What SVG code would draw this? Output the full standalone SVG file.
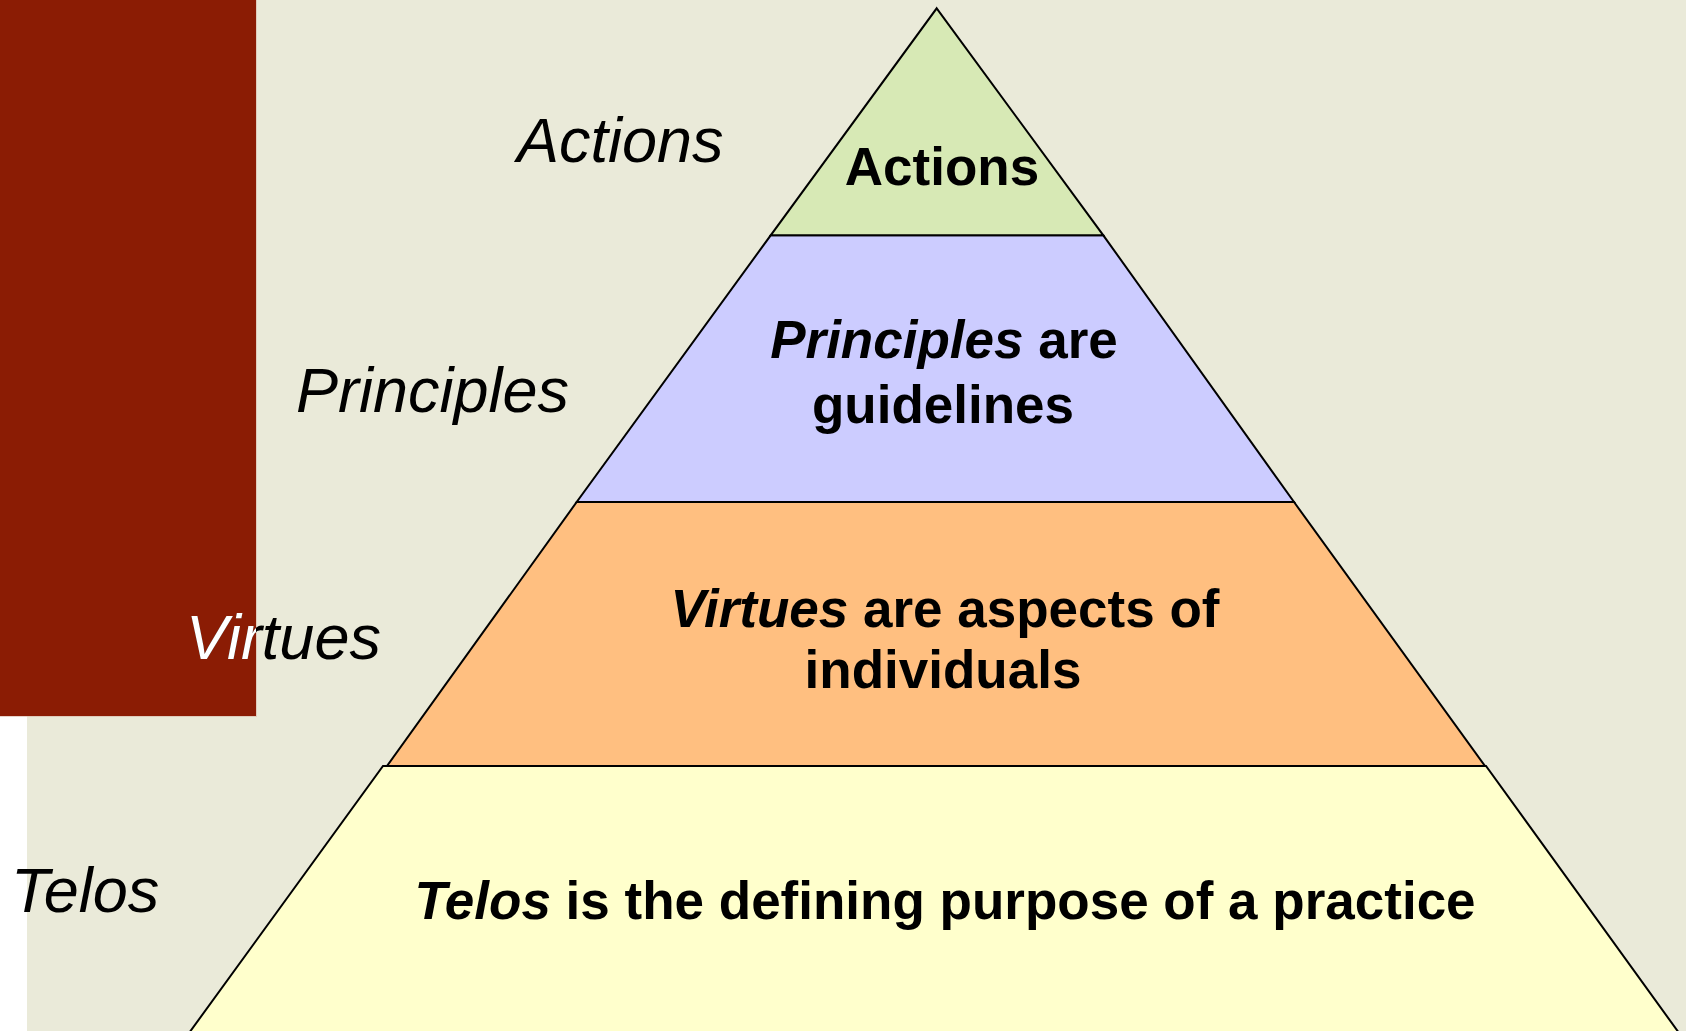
<svg xmlns="http://www.w3.org/2000/svg" width="1686" height="1031" viewBox="0 0 1686 1031">
  <style>
    .band { stroke: #000; stroke-width: 2; stroke-linejoin: miter; }
    .side { font-family: "Liberation Sans", Arial, sans-serif; font-style: italic; font-size: 63px; fill: #000; }
    .inner { font-family: "Liberation Sans", Arial, sans-serif; font-weight: bold; font-size: 53px; fill: #000; text-anchor: middle; }
    .em { font-style: italic; }
  </style>
  <defs>
    <clipPath id="redArea">
      <rect x="0" y="0" width="256" height="716"/>
    </clipPath>
  </defs>

  <!-- page background -->
  <rect x="0" y="0" width="1686" height="1031" fill="#EAEAD9"/>
  <rect x="0" y="716" width="27" height="315" fill="#FFFFFF"/>
  <!-- dark red side panel -->
  <rect x="0" y="0" width="257" height="717" fill="#D9B7A8" opacity="0.6"/>
  <rect x="0" y="0" width="256" height="716" fill="#8B1C04"/>

  <!-- side labels -->
  <g id="side-labels">
    <text class="side" x="517" y="162">Actions</text>
    <text class="side" x="296" y="412">Principles</text>
    <text class="side" x="186" y="659">Virtues</text>
    <text class="side" x="186" y="659" fill="#FFFFFF" style="fill:#FFFFFF" clip-path="url(#redArea)">Virtues</text>
    <text class="side" x="11" y="912">Telos</text>
  </g>

  <!-- pyramid levels -->
  <g id="level-telos">
    <polygon class="band" fill="#FFFFCC" points="383,766 1486,766 1700,1062 168,1062"/>
    <text class="inner" x="945" y="919"><tspan class="em">Telos</tspan> is the defining purpose of a practice</text>
  </g>
  <g id="level-virtues">
    <polygon class="band" fill="#FFBF80" points="576.7,502 1294,502 1485,766 387,766"/>
    <text class="inner" x="945" y="627"><tspan class="em">Virtues</tspan> are aspects of</text>
    <text class="inner" x="943" y="688">individuals</text>
  </g>
  <g id="level-principles">
    <polygon class="band" fill="#CCCCFF" points="770.7,235.3 1103.3,235.3 1294,502 576.7,502"/>
    <text class="inner" x="944" y="358"><tspan class="em">Principles</tspan> are</text>
    <text class="inner" x="943" y="423">guidelines</text>
  </g>
  <g id="level-actions">
    <polygon class="band" fill="#D7E9B5" points="936.7,8.3 1103.3,235.3 770.7,235.3"/>
    <text class="inner" x="942" y="185">Actions</text>
  </g>

  <g id="connectors"/>
</svg>
